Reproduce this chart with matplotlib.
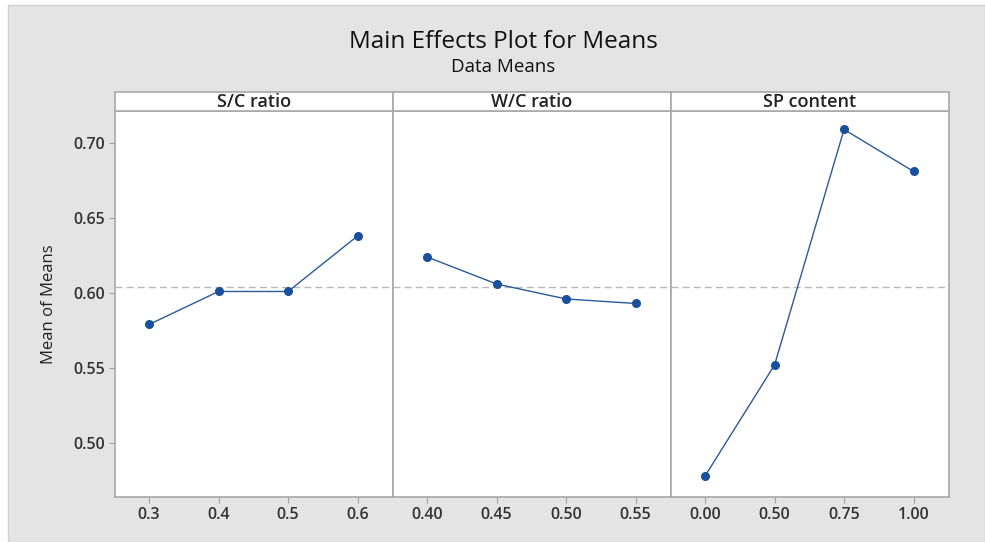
import matplotlib.pyplot as plt
from matplotlib.patches import Rectangle

# factor names and levels
factors = ['S/C ratio', 'W/C ratio', 'SP content']
sc_levels = ['0.3', '0.4', '0.5', '0.6']
wc_levels = ['0.40', '0.45', '0.50', '0.55']
sp_levels = ['0.00', '0.50', '0.75', '1.00']

# mean of means for each level
sc_means = [0.579, 0.601, 0.601, 0.638]
wc_means = [0.624, 0.606, 0.596, 0.593]
sp_means = [0.478, 0.552, 0.709, 0.681]

grand_mean = 0.604

plt.rcParams['font.family'] = ['Open Sans', 'DejaVu Sans']

W, H = 985, 542
fig = plt.figure(figsize=(W / 100, H / 100), dpi=100)
fig.patch.set_facecolor('white')

# gray background panel
bg = Rectangle((8 / W, 0), 1 - 8 / W, 1 - 5 / H, transform=fig.transFigure,
               facecolor='#e4e4e4', edgecolor='#d0d0d0', linewidth=1, zorder=-10)
fig.add_artist(bg)

fig.text(503 / W, 1 - 42 / H, 'Main Effects Plot for Means', ha='center', va='center',
         fontsize=17.5, color='#111111', fontweight='medium')
fig.text(503 / W, 1 - 67 / H, 'Data Means', ha='center', va='center',
         fontsize=13.5, color='#111111', fontweight='medium')

levels = [sc_levels, wc_levels, sp_levels]
means = [sc_means, wc_means, sp_means]

left, right = 115, 949
top_plot, bottom_plot = 111, 497
strip_top = 92
pw = (right - left) / 3
edge = '#a8a8a8'
line_col = '#2a5a9a'

for i in range(3):
    x0 = left + i * pw
    ax = fig.add_axes([x0 / W, 1 - bottom_plot / H, pw / W, (bottom_plot - top_plot) / H])
    ax.set_facecolor('white')
    pos = list(range(len(levels[i])))
    ax.plot(pos, means[i], color=line_col, linewidth=1.0, marker='o', markersize=5.5,
            markerfacecolor='#1a4f9c', markeredgecolor='#1a4f9c', zorder=3)
    ax.axhline(grand_mean, color='#b8b8b8', linestyle=(0, (5, 3)), linewidth=1.0, zorder=1)
    ax.set_xlim(-0.49, 3.51)
    ax.set_ylim(0.464, 0.7213)
    ax.set_xticks(pos)
    ax.set_xticklabels(levels[i], fontsize=11.5, fontweight='semibold', color='#333333')
    ax.set_yticks([0.50, 0.55, 0.60, 0.65, 0.70])
    if i == 0:
        ax.set_yticklabels(['0.50', '0.55', '0.60', '0.65', '0.70'], fontsize=11.5,
                           fontweight='semibold', color='#333333')
        ax.set_ylabel('Mean of Means', fontsize=12, color='#222222', labelpad=12)
    else:
        ax.tick_params(axis='y', left=False, labelleft=False)
    ax.tick_params(axis='both', color='#a0a0a0', length=4, width=0.8, pad=3)
    for s in ax.spines.values():
        s.set_color(edge)
        s.set_linewidth(1.2)

    # strip header
    sax = fig.add_axes([x0 / W, 1 - top_plot / H, pw / W, (top_plot - strip_top) / H])
    sax.set_facecolor('white')
    sax.set_xticks([])
    sax.set_yticks([])
    for s in sax.spines.values():
        s.set_color(edge)
        s.set_linewidth(1.2)
    sax.text(0.5, 0.45, factors[i], ha='center', va='center', transform=sax.transAxes,
             fontsize=13, fontweight='semibold', color='#222222')

fig.savefig('out.png', dpi=100, facecolor=fig.get_facecolor())
